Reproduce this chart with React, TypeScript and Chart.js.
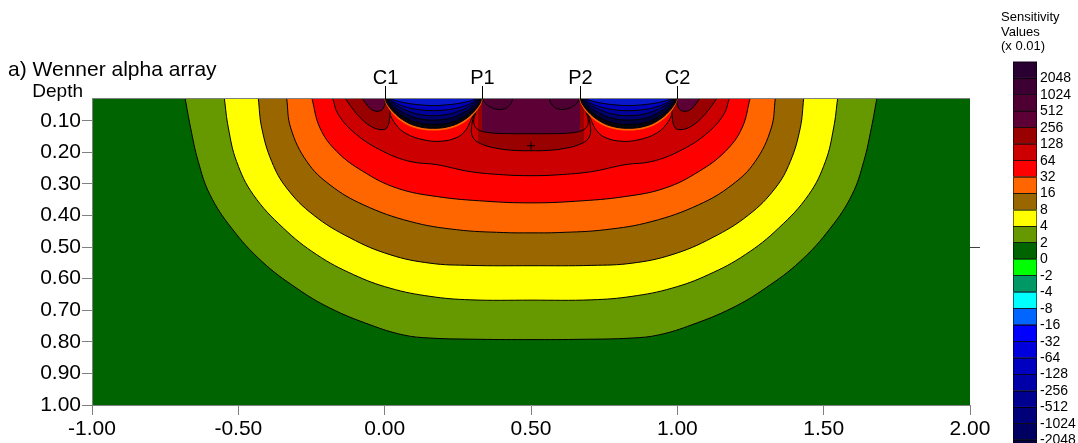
import React, { useEffect, useRef } from "react";
import { Chart, registerables } from "chart.js";

Chart.register(...registerables);

type P = [number, number];

// ---- axes / labels ----
const depthTicks = [0.1, 0.2, 0.3, 0.4, 0.5, 0.6, 0.7, 0.8, 0.9, 1.0];
const depthMin = 0.028;
const depthMax = 1.0;
const xMin = -1;
const xMax = 2;
const xStep = 0.5;
const titleText = "a) Wenner alpha array";
const depthLabel = "Depth";
const electrodeNames = ["C1", "P1", "P2", "C2"];
const electrodePositions = [0, 0.333, 0.667, 1.0];
const rightTickDepth = 0.5;

// ---- colour scale legend ----
const legendTitle = ["Sensitivity", "Values", "(x 0.01)"];
const legendLabels = ["2048", "1024", "512", "256", "128", "64", "32", "16", "8", "4", "2", "0", "-2", "-4", "-8", "-16", "-32", "-64", "-128", "-256", "-512", "-1024", "-2048"];
const legendColors = ["#2A0033", "#3D0033", "#4E0033", "#5C0035", "#990000", "#CC0000", "#FF0000", "#FF6600", "#996600", "#FFFF00", "#669900", "#006400", "#00FF00", "#009966", "#00FFFF", "#0066FF", "#0000FF", "#0000DD", "#0000C0", "#0000A8", "#000090", "#000078", "#000060", "#000040"];

// ---- contour boundaries [x, depth] ----
const contour2: P[] = [[-0.682, 0.028], [-0.663, 0.123], [-0.637, 0.229], [-0.597, 0.334], [-0.523, 0.44], [-0.42, 0.545], [-0.301, 0.63], [-0.187, 0.693], [-0.05, 0.746], [0.063, 0.778], [0.155, 0.788], [0.326, 0.792], [0.5, 0.793], [0.674, 0.792], [0.845, 0.788], [0.937, 0.778], [1.05, 0.746], [1.187, 0.693], [1.301, 0.63], [1.42, 0.545], [1.523, 0.44], [1.597, 0.334], [1.637, 0.229], [1.663, 0.123], [1.682, 0.028]];
const contour4: P[] = [[-0.548, 0.028], [-0.534, 0.123], [-0.506, 0.229], [-0.449, 0.334], [-0.346, 0.44], [-0.232, 0.524], [-0.107, 0.587], [0.018, 0.63], [0.155, 0.656], [0.292, 0.667], [0.5, 0.668], [0.708, 0.667], [0.845, 0.656], [0.982, 0.63], [1.107, 0.587], [1.232, 0.524], [1.346, 0.44], [1.449, 0.334], [1.506, 0.229], [1.534, 0.123], [1.548, 0.028]];
const contour8: P[] = [[-0.432, 0.028], [-0.42, 0.123], [-0.386, 0.229], [-0.335, 0.313], [-0.244, 0.398], [-0.118, 0.471], [0.018, 0.524], [0.155, 0.551], [0.292, 0.558], [0.5, 0.559], [0.708, 0.558], [0.845, 0.551], [0.982, 0.524], [1.118, 0.471], [1.244, 0.398], [1.335, 0.313], [1.386, 0.229], [1.42, 0.123], [1.432, 0.028]];
const contour16: P[] = [[-0.335, 0.028], [-0.321, 0.123], [-0.266, 0.229], [-0.187, 0.303], [-0.073, 0.366], [0.087, 0.419], [0.246, 0.445], [0.405, 0.454], [0.5, 0.455], [0.595, 0.454], [0.754, 0.445], [0.913, 0.419], [1.073, 0.366], [1.187, 0.303], [1.266, 0.229], [1.321, 0.123], [1.335, 0.028]];
const contour32: P[] = [[-0.249, 0.028], [-0.221, 0.123], [-0.164, 0.197], [-0.073, 0.261], [0.041, 0.313], [0.178, 0.34], [0.349, 0.355], [0.5, 0.36], [0.651, 0.355], [0.822, 0.34], [0.959, 0.313], [1.073, 0.261], [1.164, 0.197], [1.221, 0.123], [1.249, 0.028]];
const contour64: P[] = [[-0.178, 0.028], [-0.158, 0.081], [-0.096, 0.144], [-0.005, 0.197], [0.087, 0.229], [0.178, 0.239], [0.292, 0.261], [0.405, 0.271], [0.5, 0.274], [0.595, 0.271], [0.708, 0.261], [0.822, 0.239], [0.913, 0.229], [1.005, 0.197], [1.096, 0.144], [1.158, 0.081], [1.178, 0.028]];
const pocketLeft: P[] = [[0.008, 0.028], [0.015, 0.071], [0.039, 0.113], [0.074, 0.141], [0.131, 0.16], [0.189, 0.165], [0.244, 0.154], [0.275, 0.132], [0.295, 0.097], [0.312, 0.059], [0.322, 0.028]];
const pocketRight: P[] = [[0.678, 0.028], [0.688, 0.059], [0.705, 0.097], [0.725, 0.132], [0.756, 0.154], [0.811, 0.165], [0.869, 0.16], [0.926, 0.141], [0.961, 0.113], [0.985, 0.071], [0.992, 0.028]];
const loop128C1: P[] = [[-0.136, 0.028], [-0.112, 0.059], [-0.084, 0.09], [-0.05, 0.116], [-0.016, 0.128], [0.008, 0.122], [0.018, 0.081], [0.018, 0.028]];
const loop128C2: P[] = [[0.982, 0.028], [0.982, 0.081], [0.992, 0.122], [1.016, 0.128], [1.05, 0.116], [1.084, 0.09], [1.112, 0.059], [1.136, 0.028]];
const center128: P[] = [[0.319, 0.028], [0.312, 0.059], [0.297, 0.118], [0.303, 0.155], [0.337, 0.176], [0.394, 0.189], [0.445, 0.194], [0.5, 0.195], [0.555, 0.194], [0.606, 0.189], [0.663, 0.176], [0.697, 0.155], [0.703, 0.118], [0.688, 0.059], [0.681, 0.028]];
const loop256C1: P[] = [[-0.077, 0.028], [-0.064, 0.046], [-0.046, 0.064], [-0.026, 0.07], [-0.009, 0.065], [0.001, 0.046], [0.003, 0.028]];
const loop256C2: P[] = [[0.997, 0.028], [0.999, 0.046], [1.009, 0.065], [1.026, 0.07], [1.046, 0.064], [1.064, 0.046], [1.077, 0.028]];
const center256: P[] = [[0.333, 0.028], [0.321, 0.053], [0.308, 0.084], [0.305, 0.109], [0.319, 0.128], [0.36, 0.138], [0.429, 0.141], [0.5, 0.141], [0.571, 0.141], [0.64, 0.138], [0.681, 0.128], [0.695, 0.109], [0.692, 0.084], [0.679, 0.053], [0.667, 0.028]];
const lobe512P1: P[] = [[0.333, 0.028], [0.345, 0.046], [0.376, 0.062], [0.41, 0.062], [0.431, 0.046], [0.438, 0.028]];
const lobe512P2: P[] = [[0.562, 0.028], [0.569, 0.046], [0.59, 0.062], [0.624, 0.062], [0.655, 0.046], [0.667, 0.028]];

// negative-sensitivity bowls between C1-P1 and P2-C2
const bowl1Ring: P[] = [[-0.002, 0.028], [0.006, 0.049], [0.028, 0.078], [0.06, 0.104], [0.104, 0.123], [0.167, 0.131], [0.23, 0.123], [0.274, 0.104], [0.306, 0.078], [0.328, 0.049], [0.336, 0.028]];
const bowl1L0: P[] = [[0.001, 0.028], [0.008, 0.045], [0.03, 0.072], [0.062, 0.097], [0.105, 0.116], [0.167, 0.124], [0.229, 0.116], [0.272, 0.097], [0.304, 0.072], [0.326, 0.045], [0.332, 0.028]];
const bowl1L1: P[] = [[0.004, 0.028], [0.012, 0.042], [0.034, 0.066], [0.066, 0.088], [0.107, 0.105], [0.167, 0.112], [0.227, 0.105], [0.268, 0.088], [0.3, 0.066], [0.322, 0.042], [0.329, 0.028]];
const bowl1L2: P[] = [[0.006, 0.028], [0.016, 0.04], [0.04, 0.06], [0.072, 0.078], [0.11, 0.092], [0.167, 0.098], [0.224, 0.092], [0.262, 0.078], [0.294, 0.06], [0.318, 0.04], [0.327, 0.028]];
const bowl1L3: P[] = [[0.008, 0.028], [0.02, 0.038], [0.045, 0.054], [0.077, 0.068], [0.114, 0.079], [0.167, 0.084], [0.22, 0.079], [0.257, 0.068], [0.289, 0.054], [0.314, 0.038], [0.325, 0.028]];
const bowl1L4: P[] = [[0.01, 0.028], [0.03, 0.04], [0.06, 0.053], [0.11, 0.064], [0.167, 0.068], [0.224, 0.064], [0.274, 0.053], [0.304, 0.04], [0.323, 0.028]];
const bowl1L5: P[] = [[0.014, 0.028], [0.04, 0.037], [0.08, 0.045], [0.125, 0.05], [0.167, 0.052], [0.209, 0.05], [0.254, 0.045], [0.294, 0.037], [0.32, 0.028]];
const bowl2Ring: P[] = [[0.664, 0.028], [0.672, 0.049], [0.694, 0.078], [0.726, 0.104], [0.77, 0.123], [0.833, 0.131], [0.896, 0.123], [0.94, 0.104], [0.972, 0.078], [0.994, 0.049], [1.002, 0.028]];
const bowl2L0: P[] = [[0.668, 0.028], [0.674, 0.045], [0.696, 0.072], [0.728, 0.097], [0.771, 0.116], [0.833, 0.124], [0.895, 0.116], [0.938, 0.097], [0.97, 0.072], [0.992, 0.045], [0.999, 0.028]];
const bowl2L1: P[] = [[0.671, 0.028], [0.678, 0.042], [0.7, 0.066], [0.732, 0.088], [0.773, 0.105], [0.833, 0.112], [0.893, 0.105], [0.934, 0.088], [0.966, 0.066], [0.988, 0.042], [0.996, 0.028]];
const bowl2L2: P[] = [[0.673, 0.028], [0.682, 0.04], [0.706, 0.06], [0.738, 0.078], [0.776, 0.092], [0.833, 0.098], [0.89, 0.092], [0.928, 0.078], [0.96, 0.06], [0.984, 0.04], [0.994, 0.028]];
const bowl2L3: P[] = [[0.675, 0.028], [0.686, 0.038], [0.711, 0.054], [0.743, 0.068], [0.78, 0.079], [0.833, 0.084], [0.886, 0.079], [0.923, 0.068], [0.955, 0.054], [0.98, 0.038], [0.992, 0.028]];
const bowl2L4: P[] = [[0.677, 0.028], [0.696, 0.04], [0.726, 0.053], [0.776, 0.064], [0.833, 0.068], [0.89, 0.064], [0.94, 0.053], [0.97, 0.04], [0.99, 0.028]];
const bowl2L5: P[] = [[0.68, 0.028], [0.706, 0.037], [0.746, 0.045], [0.791, 0.05], [0.833, 0.052], [0.875, 0.05], [0.92, 0.045], [0.96, 0.037], [0.986, 0.028]];

const maxMarker: P[] = [[0.5, 0.179]];

// ---- drawing table (back to front) ----
const layers: { pts: P[]; color: string; border?: number }[] = [
  { pts: contour2, color: "#669900" },
  { pts: contour4, color: "#FFFF00" },
  { pts: contour8, color: "#996600" },
  { pts: contour16, color: "#FF6600" },
  { pts: contour32, color: "#FF0000" },
  { pts: contour64, color: "#CC0000" },
  { pts: pocketLeft, color: "#FF0000" },
  { pts: pocketRight, color: "#FF0000" },
  { pts: loop128C1, color: "#990000" },
  { pts: loop128C2, color: "#990000" },
  { pts: center128, color: "#990000" },
  { pts: loop256C1, color: "#5C0035" },
  { pts: loop256C2, color: "#5C0035" },
  { pts: center256, color: "#5C0035" },
  { pts: lobe512P1, color: "#4E0033" },
  { pts: lobe512P2, color: "#4E0033" },
  { pts: bowl1Ring, color: "#FF6600", border: 0 },
  { pts: bowl1L0, color: "#05050F" },
  { pts: bowl1L1, color: "#00003C" },
  { pts: bowl1L2, color: "#000070" },
  { pts: bowl1L3, color: "#00009C" },
  { pts: bowl1L4, color: "#0000BE" },
  { pts: bowl1L5, color: "#0A18CC" },
  { pts: bowl2Ring, color: "#FF6600", border: 0 },
  { pts: bowl2L0, color: "#05050F" },
  { pts: bowl2L1, color: "#00003C" },
  { pts: bowl2L2, color: "#000070" },
  { pts: bowl2L3, color: "#00009C" },
  { pts: bowl2L4, color: "#0000BE" },
  { pts: bowl2L5, color: "#0A18CC" },
];

const FONT = "'Liberation Sans', Arial, Helvetica, sans-serif";
const toXY = (pts: P[]) => pts.map(([x, y]) => ({ x, y }));

const decorPlugin = {
  id: "decor",
  beforeDraw(chart: any) {
    const { ctx, chartArea } = chart;
    ctx.save();
    ctx.fillStyle = legendColors[11];
    ctx.fillRect(chartArea.left, chartArea.top, chartArea.right - chartArea.left, chartArea.bottom - chartArea.top);
    ctx.restore();
  },
  afterDraw(chart: any) {
    const { ctx, chartArea } = chart;
    const { left, right, top } = chartArea;
    const xs = chart.scales.x;
    const ys = chart.scales.y;
    ctx.save();
    // top border
    ctx.strokeStyle = "#808080";
    ctx.lineWidth = 1;
    ctx.beginPath();
    ctx.moveTo(left, top + 0.5);
    ctx.lineTo(right, top + 0.5);
    ctx.stroke();
    // right tick
    const ym = Math.round(ys.getPixelForValue(rightTickDepth)) + 0.5;
    ctx.strokeStyle = "#404040";
    ctx.beginPath();
    ctx.moveTo(right, ym);
    ctx.lineTo(right + 10, ym);
    ctx.stroke();
    // electrodes
    ctx.strokeStyle = "#000";
    ctx.fillStyle = "#000";
    ctx.font = `20px ${FONT}`;
    ctx.textAlign = "center";
    ctx.textBaseline = "alphabetic";
    electrodePositions.forEach((e, i) => {
      const px = Math.round(xs.getPixelForValue(e)) + 0.5;
      ctx.beginPath();
      ctx.moveTo(px, top - 12);
      ctx.lineTo(px, top + 1);
      ctx.stroke();
      ctx.fillText(electrodeNames[i], px, top - 14);
    });
    // title & depth label
    ctx.textAlign = "left";
    ctx.font = `21px ${FONT}`;
    ctx.fillText(titleText, 8, 76);
    ctx.textAlign = "right";
    ctx.font = `19px ${FONT}`;
    ctx.fillText(depthLabel, 83, 97);
    // colour legend
    ctx.textAlign = "left";
    ctx.font = `13px ${FONT}`;
    legendTitle.forEach((t, i) => ctx.fillText(t, 1001, 21 + i * 14.5));
    const bx = 1013;
    const bw = 24;
    const by = 61.5;
    const bh = 16.45;
    legendColors.forEach((c, i) => {
      ctx.fillStyle = c;
      ctx.fillRect(bx, by + i * bh, bw, bh);
    });
    ctx.strokeStyle = "rgba(0,0,0,0.55)";
    legendColors.forEach((_, i) => {
      ctx.strokeRect(bx + 0.5, Math.round(by + i * bh) + 0.5, bw - 1, Math.round(bh));
    });
    ctx.fillStyle = "#000";
    ctx.font = `14px ${FONT}`;
    ctx.textBaseline = "middle";
    legendLabels.forEach((l, i) => {
      ctx.fillText(l, 1040, by + (i + 1) * bh + 0.5);
    });
    ctx.restore();
  },
};

export default function App() {
  const ref = useRef<HTMLCanvasElement>(null);
  useEffect(() => {
    if (!ref.current) return;
    const datasets: any[] = layers.map((l, i) => ({
      data: toXY(l.pts),
      backgroundColor: l.color,
      borderColor: "#000",
      borderWidth: l.border ?? 1,
      fill: { value: 0 },
      pointRadius: 0,
      pointHitRadius: 0,
      tension: 0.4,
      order: layers.length - i + 1,
    }));
    datasets.push({
      data: toXY(maxMarker),
      showLine: false,
      fill: false,
      pointStyle: "cross",
      pointRadius: 4,
      borderColor: "#000",
      backgroundColor: "#000",
      borderWidth: 1,
      order: 0,
    });
    const chart = new Chart(ref.current, {
      type: "line",
      data: { datasets },
      options: {
        animation: false,
        responsive: false,
        maintainAspectRatio: false,
        events: [],
        layout: { padding: { top: 98, right: 108, left: 0, bottom: 0 } },
        plugins: { legend: { display: false }, tooltip: { enabled: false }, title: { display: false } },
        scales: {
          x: {
            type: "linear",
            min: xMin,
            max: xMax,
            afterFit: (s: any) => {
              s.height = 38;
            },
            ticks: {
              stepSize: xStep,
              autoSkip: false,
              maxRotation: 0,
              padding: 2,
              color: "#000",
              font: { family: FONT, size: 21 },
              callback: (v: any) => Number(v).toFixed(2),
            },
            grid: { drawOnChartArea: false, drawTicks: true, tickLength: 10, color: "#808080" },
            border: { display: true, color: "#808080" },
          },
          y: {
            type: "linear",
            reverse: true,
            min: depthMin,
            max: depthMax,
            afterFit: (s: any) => {
              s.width = 92;
            },
            afterBuildTicks: (s: any) => {
              s.ticks = depthTicks.map((v) => ({ value: v }));
            },
            ticks: {
              autoSkip: false,
              padding: 1,
              color: "#000",
              font: { family: FONT, size: 21 },
              callback: (v: any) => Number(v).toFixed(2),
            },
            grid: { drawOnChartArea: false, drawTicks: true, tickLength: 10, color: "#808080" },
            border: { display: true, color: "#808080" },
          },
        },
      },
      plugins: [decorPlugin],
    } as any);
    return () => chart.destroy();
  }, []);
  return (
    <div style={{ position: "fixed", left: 0, top: 0, width: 1078, height: 443, background: "#fff" }}>
      <canvas ref={ref} width={1078} height={443} style={{ display: "block" }} />
    </div>
  );
}
